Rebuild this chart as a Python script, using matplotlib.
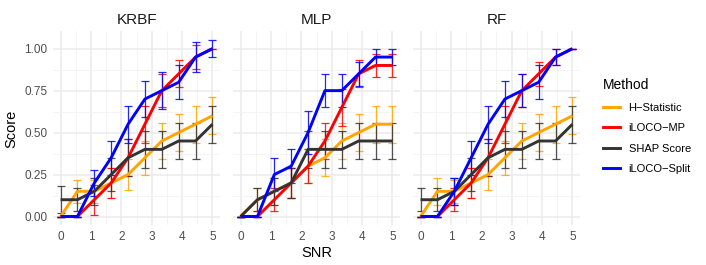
import numpy as np
import matplotlib.pyplot as plt
from matplotlib.lines import Line2D

plt.rcParams['font.family'] = ['Liberation Sans', 'DejaVu Sans']

# --- données ---
snr = np.linspace(0, 5, 10)
models = ["KRBF", "MLP", "RF"]
methods = ["H\u2212Statistic", "iLOCO\u2212MP", "SHAP Score", "iLOCO\u2212Split"]
colors = ["#FFA500", "#FF0000", "#333333", "#0000FF"]

# KRBF
krbf_h = [0.00, 0.15, 0.15, 0.20, 0.25, 0.35, 0.45, 0.50, 0.55, 0.60]
krbf_h_se = [0.00, 0.07, 0.07, 0.09, 0.09, 0.10, 0.11, 0.11, 0.11, 0.11]
krbf_mp = [0.00, 0.00, 0.10, 0.20, 0.35, 0.55, 0.75, 0.85, 0.95, 1.00]
krbf_mp_se = [0.00, 0.00, 0.09, 0.09, 0.11, 0.11, 0.10, 0.08, 0.07, 0.00]
krbf_shap = [0.10, 0.10, 0.15, 0.25, 0.35, 0.40, 0.40, 0.45, 0.45, 0.55]
krbf_shap_se = [0.08, 0.07, 0.08, 0.10, 0.11, 0.11, 0.11, 0.11, 0.11, 0.11]
krbf_split = [0.00, 0.00, 0.20, 0.35, 0.55, 0.70, 0.75, 0.80, 0.95, 1.00]
krbf_split_se = [0.00, 0.00, 0.08, 0.10, 0.11, 0.11, 0.11, 0.10, 0.09, 0.05]

# MLP
mlp_h = [0.00, 0.10, 0.15, 0.20, 0.30, 0.35, 0.45, 0.50, 0.55, 0.55]
mlp_h_se = [0.00, 0.07, 0.08, 0.09, 0.10, 0.11, 0.11, 0.11, 0.11, 0.11]
mlp_mp = [0.00, 0.00, 0.10, 0.20, 0.30, 0.45, 0.65, 0.85, 0.90, 0.90]
mlp_mp_se = [0.00, 0.00, 0.07, 0.09, 0.10, 0.11, 0.11, 0.08, 0.07, 0.07]
mlp_shap = [0.00, 0.10, 0.15, 0.20, 0.40, 0.40, 0.40, 0.45, 0.45, 0.45]
mlp_shap_se = [0.00, 0.07, 0.08, 0.09, 0.11, 0.11, 0.11, 0.11, 0.11, 0.11]
mlp_split = [0.00, 0.00, 0.25, 0.30, 0.50, 0.75, 0.75, 0.85, 0.95, 0.95]
mlp_split_se = [0.00, 0.00, 0.10, 0.10, 0.13, 0.10, 0.10, 0.07, 0.05, 0.05]

# RF
rf_h = [0.00, 0.15, 0.15, 0.20, 0.25, 0.35, 0.45, 0.50, 0.55, 0.60]
rf_h_se = [0.00, 0.08, 0.07, 0.09, 0.09, 0.10, 0.11, 0.11, 0.11, 0.11]
rf_mp = [0.00, 0.00, 0.10, 0.20, 0.35, 0.55, 0.75, 0.85, 0.95, 1.00]
rf_mp_se = [0.00, 0.00, 0.07, 0.09, 0.11, 0.11, 0.10, 0.07, 0.05, 0.00]
rf_shap = [0.10, 0.10, 0.15, 0.25, 0.35, 0.40, 0.40, 0.45, 0.45, 0.55]
rf_shap_se = [0.07, 0.07, 0.08, 0.10, 0.11, 0.11, 0.11, 0.11, 0.11, 0.11]
rf_split = [0.00, 0.00, 0.15, 0.35, 0.55, 0.70, 0.75, 0.80, 0.95, 1.00]
rf_split_se = [0.00, 0.00, 0.08, 0.10, 0.11, 0.11, 0.10, 0.10, 0.05, 0.00]

data = {
    "KRBF": [(krbf_h, krbf_h_se), (krbf_mp, krbf_mp_se), (krbf_shap, krbf_shap_se), (krbf_split, krbf_split_se)],
    "MLP": [(mlp_h, mlp_h_se), (mlp_mp, mlp_mp_se), (mlp_shap, mlp_shap_se), (mlp_split, mlp_split_se)],
    "RF": [(rf_h, rf_h_se), (rf_mp, rf_mp_se), (rf_shap, rf_shap_se), (rf_split, rf_split_se)],
}

W, H = 706, 265
fig = plt.figure(figsize=(W / 100, H / 100), dpi=100)

panel_left = [53, 233, 413]
panel_w = 167
panel_bottom = 39.6
panel_h = 194

for i, m in enumerate(models):
    ax = fig.add_axes([panel_left[i] / W, panel_bottom / H, panel_w / W, panel_h / H])
    for (y, se), c in zip(data[m], colors):
        y = np.array(y)
        se = np.array(se)
        ax.errorbar(snr, y, yerr=se, fmt='none', ecolor=c, elinewidth=0.9,
                    capsize=2.6, capthick=0.9, alpha=0.85, zorder=3)
        ax.plot(snr, y, color=c, lw=2.1, zorder=4, solid_capstyle='butt')
    ax.set_xlim(-0.25, 5.25)
    ax.set_ylim(-0.053, 1.103)
    ax.set_xticks(range(6))
    ax.set_xticks(np.arange(0.5, 5, 1), minor=True)
    ax.set_yticks([0, 0.25, 0.5, 0.75, 1.0])
    ax.set_yticks([0.125, 0.375, 0.625, 0.875], minor=True)
    ax.grid(which='major', color='#ebebeb', lw=1.1, zorder=0)
    ax.grid(which='minor', color='#f2f2f2', lw=0.6, zorder=0)
    for s in ax.spines.values():
        s.set_visible(False)
    ax.tick_params(which='both', length=0, labelsize=8.5, labelcolor='#4d4d4d', pad=4)
    if i == 0:
        ax.set_yticklabels(["0.00", "0.25", "0.50", "0.75", "1.00"])
        ax.set_ylabel("Score", fontsize=10.5, labelpad=4)
    else:
        ax.set_yticklabels([])
    if i == 1:
        ax.set_xlabel("SNR", fontsize=10.5, labelpad=2)
    ax.set_title(m, fontsize=11, color='#1a1a1a', pad=5)

handles = [Line2D([0], [0], color=c, lw=2.1) for c in colors]
leg = fig.legend(handles, methods, title="Method", loc='upper left',
                 bbox_to_anchor=(593 / W, 1 - 68 / H), frameon=False,
                 fontsize=8, title_fontsize=10, handlelength=1.5,
                 labelspacing=0.95, handletextpad=0.8, alignment='left')

fig.savefig("out.png", dpi=100)
